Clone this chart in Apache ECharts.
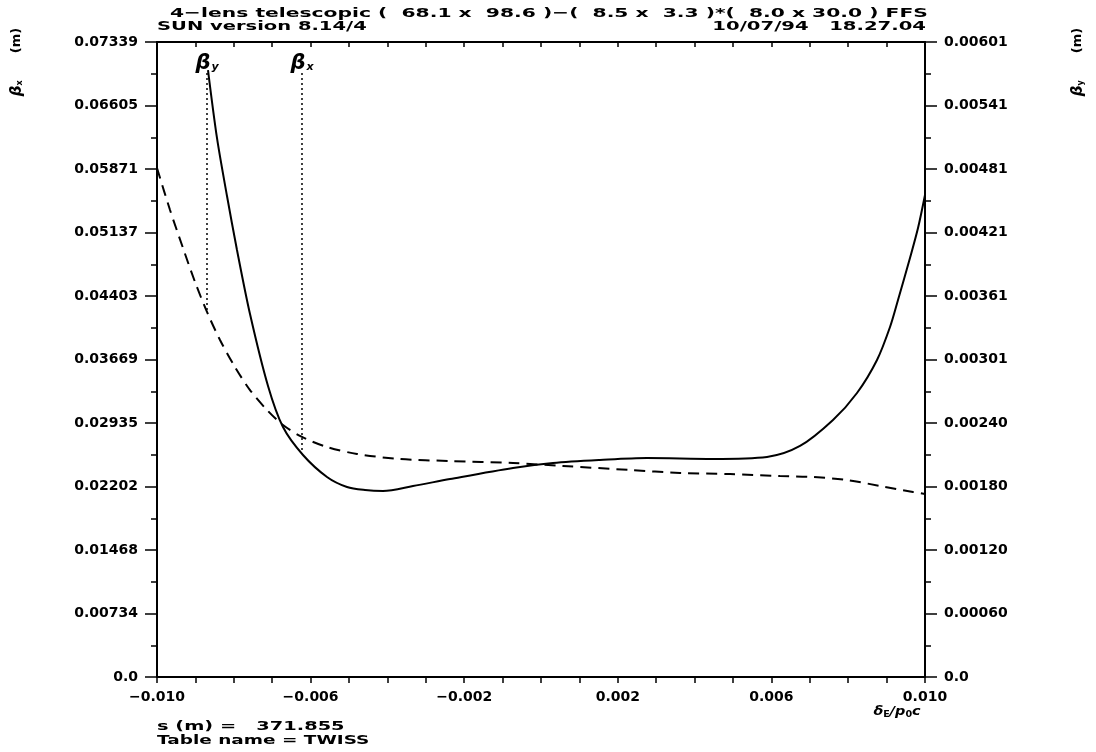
<!DOCTYPE html>
<html>
<head>
<meta charset="utf-8">
<script src="https://cdn.jsdelivr.net/npm/echarts@6/dist/echarts.min.js"></script>
<style>
html,body{margin:0;padding:0;background:#fff;}
#chart{width:1096px;height:752px;}
</style>
</head>
<body>
<div id="chart"></div>
<script>
// ---- data ----
var leftTickLabels = ['0.0','0.00734','0.01468','0.02202','0.02935','0.03669','0.04403','0.05137','0.05871','0.06605','0.07339'];
var rightTickLabels = ['0.0','0.00060','0.00120','0.00180','0.00240','0.00301','0.00361','0.00421','0.00481','0.00541','0.00601'];
var xTickLabels = {'-10':'\u22120.010','-6':'\u22120.006','-2':'\u22120.002','2':'0.002','6':'0.006','10':'0.010'};

// solid curve: beta_x (left axis)
var betaXx = [-0.008672,-0.008438,-0.008177,-0.007917,-0.007578,-0.007109,-0.006719,-0.006198,-0.005573,-0.005052,-0.004583,-0.004115,-0.003333,-0.002370,-0.000729,0.000313,0.001536,0.002760,0.004479,0.005885,0.006745,0.007604,0.008229,0.008750,0.009089,0.009297,0.009609,0.009818,0.010];
var betaXv = [0.07015,0.06230,0.05559,0.04935,0.04195,0.03363,0.02889,0.02566,0.02312,0.02196,0.02161,0.02150,0.02207,0.02288,0.02416,0.02473,0.02508,0.02531,0.02520,0.02543,0.02670,0.02970,0.03282,0.03664,0.04045,0.04357,0.04843,0.05189,0.05571];

// dashed curve: beta_y (right axis)
var betaYx = [-0.010,-0.009661,-0.009323,-0.009010,-0.008698,-0.008359,-0.007969,-0.007578,-0.007135,-0.006719,-0.006224,-0.005573,-0.004792,-0.003672,-0.002370,-0.000729,0.000573,0.002318,0.003620,0.004922,0.006224,0.007083,0.007969,0.008828,0.009688,0.010];
var betaYv = [0.004817,0.004420,0.004060,0.003739,0.003455,0.003190,0.002934,0.002716,0.002527,0.002385,0.002272,0.002177,0.002111,0.002063,0.002044,0.002025,0.001997,0.001959,0.001931,0.001921,0.001902,0.001893,0.001864,0.001808,0.001751,0.001732];

// curve-name markers: [x, yTop, yCurve]
var markerY = [-0.008698, 0.005717, 0.003455];   // right axis
var markerX = [-0.006224, 0.06981, 0.02624];     // left axis

function pairs(xs, ys){ return xs.map(function(x,i){ return [x, ys[i]]; }); }

var FONT = 'DejaVu Sans';
var chart = echarts.init(document.getElementById('chart'), null, {renderer:'canvas'});

var lblStyle = {color:'#000', fontFamily:FONT, fontSize:14, fontWeight:'bold'};
var tickStyle = {color:'#000', width:1.5};

function markerLabel(sub){
  return {show:true, position:'top', distance:-2, color:'#000', opacity:1,
    formatter:'{b|\u03B2}{s|' + sub + '}',
    rich:{b:{fontFamily:FONT, fontSize:21, fontStyle:'italic', fontWeight:'bold', color:'#000', lineHeight:22},
          s:{fontFamily:FONT, fontSize:11, fontStyle:'italic', fontWeight:'bold', color:'#000', padding:[8,0,0,1]}}};
}

var option = {
  backgroundColor:'#fff',
  animation:false,
  grid:{left:157, right:171, top:42, bottom:75, containLabel:false},
  xAxis:[
    {
      type:'value', position:'bottom', min:-0.01, max:0.01, interval:0.001,
      axisLine:{show:true, onZero:false, lineStyle:{color:'#000', width:2}},
      splitLine:{show:false},
      axisTick:{show:true, length:6, inside:false, lineStyle:tickStyle},
      axisLabel:Object.assign({}, lblStyle, {margin:13, showMinLabel:true, showMaxLabel:true,
        formatter:function(v){ var k = Math.round(v*1000); return xTickLabels[String(k)] || ''; }})
    },
    {
      type:'value', position:'top', min:-0.01, max:0.01, interval:0.001,
      axisLine:{show:true, onZero:false, lineStyle:{color:'#000', width:2}},
      splitLine:{show:false},
      axisTick:{show:true, length:5, inside:true, lineStyle:tickStyle},
      axisLabel:{show:false}
    }
  ],
  yAxis:[
    {
      type:'value', position:'left', min:0, max:0.07339, interval:0.007339,
      axisLine:{show:true, onZero:false, lineStyle:{color:'#000', width:2}},
      splitLine:{show:false},
      axisTick:{show:true, length:12, lineStyle:tickStyle},
      minorTick:{show:true, splitNumber:2, length:6, lineStyle:tickStyle},
      axisLabel:Object.assign({}, lblStyle, {margin:19, showMinLabel:true, showMaxLabel:true,
        formatter:function(v){ return leftTickLabels[Math.round(v/0.007339)]; }})
    },
    {
      type:'value', position:'right', min:0, max:0.00601, interval:0.000601,
      axisLine:{show:true, onZero:false, lineStyle:{color:'#000', width:2}},
      splitLine:{show:false},
      axisTick:{show:true, length:12, lineStyle:tickStyle},
      minorTick:{show:true, splitNumber:2, length:6, lineStyle:tickStyle},
      axisLabel:Object.assign({}, lblStyle, {margin:19, showMinLabel:true, showMaxLabel:true,
        formatter:function(v){ return rightTickLabels[Math.round(v/0.000601)]; }})
    }
  ],
  series:[
    {
      name:'beta_x', type:'line', xAxisIndex:0, yAxisIndex:0, smooth:0.3, symbol:'none',
      lineStyle:{color:'#000', width:2}, data:pairs(betaXx, betaXv), z:3
    },
    {
      name:'beta_y', type:'line', xAxisIndex:0, yAxisIndex:1, smooth:0.3, symbol:'none',
      lineStyle:{color:'#000', width:2, type:[11,7]}, data:pairs(betaYx, betaYv), z:3
    },
    {
      name:'marker_y', type:'line', xAxisIndex:0, yAxisIndex:1, symbol:'none',
      lineStyle:{color:'#000', width:1.5, type:[2,3]},
      data:[[markerY[0], markerY[1]], [markerY[0], markerY[2]]]
    },
    {
      name:'marker_x', type:'line', xAxisIndex:0, yAxisIndex:0, symbol:'none',
      lineStyle:{color:'#000', width:1.5, type:[2,3]},
      data:[[markerX[0], markerX[1]], [markerX[0], markerX[2]]]
    },
    {
      name:'label_y', type:'scatter', xAxisIndex:0, yAxisIndex:1, symbolSize:1,
      itemStyle:{color:'#fff', opacity:0}, silent:true, z:5,
      label:markerLabel('y'), data:[[markerY[0], markerY[1]]]
    },
    {
      name:'label_x', type:'scatter', xAxisIndex:0, yAxisIndex:0, symbolSize:1,
      itemStyle:{color:'#fff', opacity:0}, silent:true, z:5,
      label:markerLabel('x'), data:[[markerX[0], markerX[1]]]
    }
  ],
  graphic:[
    {type:'text', x:170, y:14, scaleX:1.56, style:{text:'4\u2212lens telescopic (  68.1 x  98.6 )\u2212(  8.5 x  3.3 )*(  8.0 x 30.0 ) FFS', fontFamily:FONT, fontSize:13, fontWeight:'bold', fill:'#000', textAlign:'left', textVerticalAlign:'middle'}},
    {type:'text', x:157, y:27, scaleX:1.5, style:{text:'SUN version 8.14/4', fontFamily:FONT, fontSize:13, fontWeight:'bold', fill:'#000', textAlign:'left', textVerticalAlign:'middle'}},
    {type:'text', x:926, y:27, scaleX:1.51, style:{text:'10/07/94   18.27.04', fontFamily:FONT, fontSize:13, fontWeight:'bold', fill:'#000', textAlign:'right', textVerticalAlign:'middle'}},
    {type:'text', x:897, y:712, scaleX:1.2, style:{text:'{a|\u03B4}{s|E}{a|/p}{s|0}{a|c}', fill:'#000', textAlign:'center', textVerticalAlign:'middle',
      rich:{a:{fontFamily:FONT, fontSize:12, fontStyle:'italic', fontWeight:'bold'}, s:{fontFamily:FONT, fontSize:8, fontWeight:'bold', padding:[5,0,0,0]}}}},
    {type:'text', x:157, y:727, scaleX:1.49, style:{text:'s (m) =   371.855', fontFamily:FONT, fontSize:13, fontWeight:'bold', fill:'#000', textAlign:'left', textVerticalAlign:'middle'}},
    {type:'text', x:157, y:741, scaleX:1.42, style:{text:'Table name = TWISS', fontFamily:FONT, fontSize:13, fontWeight:'bold', fill:'#000', textAlign:'left', textVerticalAlign:'middle'}},
    {type:'text', x:17, y:62, rotation:Math.PI/2, style:{text:'{b|\u03B2}{s|x}{a|      (m)}', textAlign:'center', textVerticalAlign:'middle', fill:'#000',
      rich:{b:{fontFamily:FONT, fontSize:15, fontStyle:'italic', fontWeight:'bold'}, s:{fontFamily:FONT, fontSize:8, fontWeight:'bold', padding:[6,0,0,0]}, a:{fontFamily:FONT, fontSize:13, fontWeight:'bold'}}}},
    {type:'text', x:1078, y:62, rotation:Math.PI/2, style:{text:'{b|\u03B2}{s|y}{a|      (m)}', textAlign:'center', textVerticalAlign:'middle', fill:'#000',
      rich:{b:{fontFamily:FONT, fontSize:15, fontStyle:'italic', fontWeight:'bold'}, s:{fontFamily:FONT, fontSize:8, fontWeight:'bold', padding:[6,0,0,0]}, a:{fontFamily:FONT, fontSize:13, fontWeight:'bold'}}}}
  ]
};
chart.setOption(option);
</script>
</body>
</html>
